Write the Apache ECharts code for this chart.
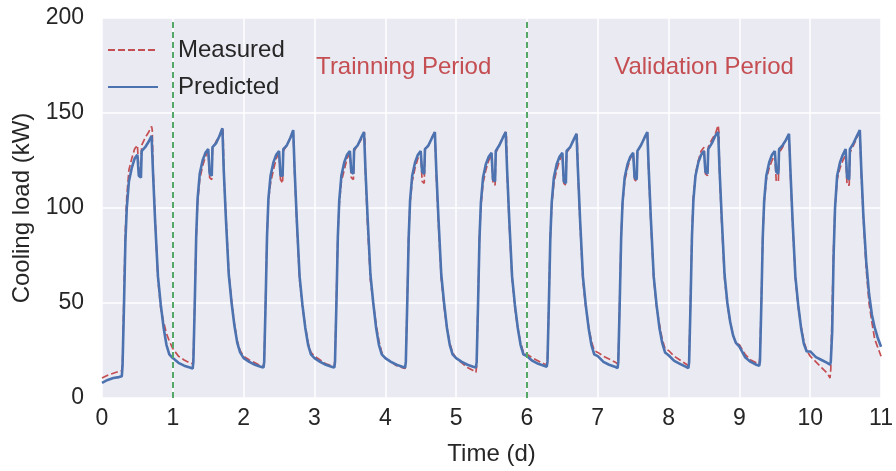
<!DOCTYPE html>
<html>
<head>
<meta charset="utf-8">
<script src="https://cdn.jsdelivr.net/npm/echarts@6.0.0/dist/echarts.min.js"></script>
<style>
  html, body { margin: 0; padding: 0; background: #fff; }
  #chart { width: 896px; height: 471px; }
</style>
</head>
<body>
<div id="chart"></div>
<script>
// position of each reading inside a day (fraction of the day)
const dayOffsets = [0.00, 0.08, 0.16, 0.24, 0.28, 0.29, 0.31, 0.33, 0.35, 0.38, 0.42, 0.46, 0.50, 0.52,
  0.55, 0.56, 0.61, 0.66, 0.70, 0.71, 0.72, 0.75, 0.79, 0.83, 0.87, 0.91, 0.95, 1.00]

// measured cooling load (kW), one row per day
const measured = [
  [10.5, 12, 13, 14, 14.5, 18, 55, 88, 106, 120, 126, 131, 133, 120, 120, 133, 137, 140, 143, 141, 121, 95, 62, 47, 40, 34, 30],
  [26, 22, 20, 18.5, 18, 22, 52, 84, 103, 115, 122, 127, 130, 116, 115, 131, 135, 138, 142, 140, 118, 96, 66, 51, 39, 30, 25],
  [22, 20, 18.5, 17, 16.5, 20, 52, 86, 104, 113, 120, 126, 129, 115, 113, 130, 133, 137, 140, 139, 118, 92, 62, 48, 38, 29, 24],
  [22, 20, 18, 17, 16.5, 21, 53, 86, 102, 114, 120, 126, 129, 116, 115, 130, 133, 136, 140, 138, 118, 91, 62, 50, 39, 30, 24],
  [21, 19, 17, 16, 15.5, 19, 52, 86, 103, 114, 121, 126, 129, 114, 113, 130, 133, 137, 140, 139, 117, 92, 63, 48, 37, 29, 24],
  [21, 18.5, 16, 14.5, 13.5, 17, 52, 85, 101, 113, 120, 125, 128, 113, 112, 129, 133, 137, 140, 138, 118, 92, 63, 47, 37, 29, 24],
  [23, 21, 19.5, 18, 17.5, 20, 52, 85, 101, 113, 120, 125, 128, 113, 112, 129, 132, 136, 139, 137, 118, 92, 62, 48, 38, 30, 25],
  [24, 22, 20.5, 19, 18, 21, 52, 86, 102, 114, 121, 126, 129, 115, 114, 130, 133, 137, 140, 139, 118, 92, 63, 48, 39, 31, 26],
  [25, 22, 20, 18, 17, 21, 53, 88, 106, 118, 125, 130, 132, 118, 117, 132, 136, 139, 143.5, 140, 118, 92, 63, 49, 40, 33, 29],
  [28, 23, 20, 18.5, 18, 22, 52, 86, 103, 115, 121, 125, 128, 114, 114, 129, 132, 136, 139, 138, 118, 92, 63, 48, 38, 30, 25],
  [22, 19, 16, 13, 10.5, 15, 48, 80, 100, 115, 121, 125, 128, 112, 112, 129, 133, 137, 141, 140, 118, 95, 68, 50, 40, 31, 27, 22]
]

// predicted cooling load (kW), one row per day
const predicted = [
  [8, 9.5, 10.5, 11, 11.5, 17, 48, 82, 100, 114, 121, 126, 128, 117, 116, 130, 132, 135, 138, 137, 119, 93, 64, 49, 37, 28, 23],
  [21, 18.5, 17, 16, 15.5, 19, 50, 85, 105, 118, 125, 129, 131, 118, 117, 132, 134, 138, 142, 141, 119, 94, 65, 50, 38, 29, 24],
  [21, 19, 17.5, 16.5, 16, 19, 50, 85, 105, 117, 124, 128, 130, 117, 117, 131, 133, 137, 141, 140, 120, 94, 64, 49, 37, 28, 23],
  [21, 19, 17.5, 16.5, 16, 19, 50, 85, 104, 117, 124, 128, 130, 119, 118, 131, 133, 137, 140, 139, 120, 95, 65, 50, 37, 28, 23],
  [21, 19, 17.5, 16.5, 16, 19, 50, 84, 104, 117, 124, 128, 130, 119, 118, 131, 133, 137, 140, 139, 120, 95, 65, 50, 37, 28, 23],
  [21, 19, 17.5, 16.5, 16, 19, 50, 84, 103, 116, 123, 127, 129, 115, 114, 130, 133, 137, 140, 139, 120, 94, 64, 49, 37, 28, 23],
  [22, 19.5, 18, 17, 16.5, 19, 50, 84, 103, 116, 123, 127, 129, 114, 113, 130, 132, 136, 139, 138, 120, 94, 64, 49, 37, 28, 23],
  [22, 19, 17.5, 16.5, 15.7, 19, 50, 84, 103, 116, 123, 127, 129, 116, 115, 130, 133, 137, 140, 139, 120, 94, 64, 49, 37, 29, 24],
  [22.5, 19.5, 18, 16.5, 15.7, 19, 50, 85, 104, 117, 124, 128, 130, 119, 118, 131, 134, 138, 140, 139, 120, 95, 65, 50, 40, 33, 29],
  [27, 21.5, 19, 17.5, 17, 19.5, 50, 85, 104, 117, 124, 128, 130, 119, 118, 131, 133, 136, 139, 138, 120, 94, 64, 49, 37, 28.5, 24.5],
  [24.5, 21.5, 20, 18.5, 17.5, 19, 35, 75, 100, 117, 124, 128, 131, 116, 115, 131, 134, 138, 141, 140, 121, 96, 72, 55, 44, 37, 32, 27]
]

const xTicks = [0, 11, 1]       // min, max, step (days)
const yTicks = [0, 200, 50]     // min, max, step (kW)
const periodSplits = [1, 6]     // start of training / validation period
const periodLabels = [
  { name: 'Trainning Period', t: 4.26, v: 174 },
  { name: 'Validation Period', t: 8.5, v: 174 }
]

function toPoints(rows) {
  const pts = []
  rows.forEach((row, d) => {
    row.forEach((v, i) => pts.push([d + dayOffsets[i], v]))
  })
  return pts
}

const font = 'Arial, "Liberation Sans", sans-serif'
const textColor = '#262626'

const chart = echarts.init(document.getElementById('chart'))
chart.setOption({
  animation: false,
  textStyle: { fontFamily: font },
  grid: {
    left: 102, right: 14, top: 18, bottom: 71,
    show: true, backgroundColor: '#EAEAF2', borderWidth: 0
  },
  legend: {
    data: ['Measured', 'Predicted'],
    orient: 'vertical',
    left: 107, top: 38, padding: 0,
    itemWidth: 50, itemHeight: 14, itemGap: 13,
    itemStyle: { opacity: 0, borderWidth: 0 },
    textStyle: { fontSize: 24, color: textColor, fontFamily: font, padding: [0, 0, 0, 15] }
  },
  xAxis: {
    type: 'value',
    min: xTicks[0], max: xTicks[1], interval: xTicks[2],
    name: 'Time (d)', nameLocation: 'middle', nameGap: 44,
    nameTextStyle: { fontSize: 24, color: textColor, fontFamily: font },
    axisLine: { show: false }, axisTick: { show: false },
    axisLabel: { fontSize: 23, color: textColor, margin: 9, fontFamily: font },
    splitLine: { lineStyle: { color: '#fff', width: 1.5 } }
  },
  yAxis: {
    type: 'value',
    min: yTicks[0], max: yTicks[1], interval: yTicks[2],
    name: 'Cooling load (kW)', nameLocation: 'middle', nameGap: 64,
    nameTextStyle: { fontSize: 24, color: textColor, fontFamily: font },
    axisLine: { show: false }, axisTick: { show: false },
    axisLabel: { fontSize: 23, color: textColor, margin: 18, fontFamily: font },
    splitLine: { lineStyle: { color: '#fff', width: 1.5 } }
  },
  series: [
    {
      name: 'Measured',
      type: 'line',
      data: toPoints(measured),
      showSymbol: false, symbol: 'none',
      lineStyle: { color: '#C44E52', width: 1.7, type: [7, 3] },
      itemStyle: { color: '#C44E52' }
    },
    {
      name: 'Predicted',
      type: 'line',
      data: toPoints(predicted),
      showSymbol: false, symbol: 'none',
      lineStyle: { color: '#4C72B0', width: 2.6 },
      itemStyle: { color: '#4C72B0' }
    },
    {
      name: 'periods',
      type: 'line',
      data: [],
      markLine: {
        silent: true,
        symbol: 'none',
        label: { show: false },
        lineStyle: { color: '#55A868', width: 2, type: [6, 4] },
        data: periodSplits.map(t => ({ xAxis: t }))
      },
      markPoint: {
        silent: true,
        symbolSize: 0,
        label: { show: true, fontSize: 24, color: '#C44E52', fontFamily: font, formatter: p => p.name },
        data: periodLabels.map(p => ({ name: p.name, coord: [p.t, p.v] }))
      }
    }
  ]
})
</script>
</body>
</html>
